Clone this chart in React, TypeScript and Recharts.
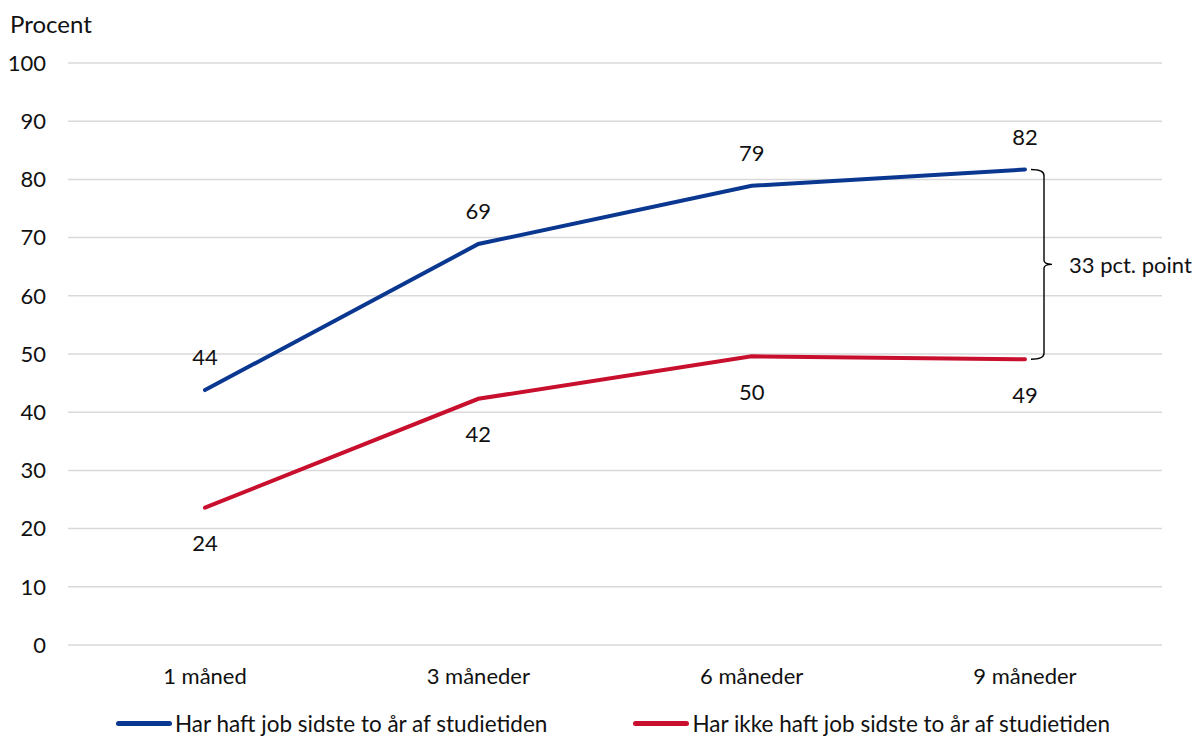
import React from 'react';
import { LineChart, Line, XAxis, YAxis, CartesianGrid, Legend, LabelList, ReferenceArea } from 'recharts';

// beskæftigelse efter endt uddannelse, procent
const months = ['1 måned', '3 måneder', '6 måneder', '9 måneder'];
const medJob = [43.8, 68.9, 78.9, 81.7];
const udenJob = [23.6, 42.3, 49.6, 49.1];
const yTicks = [0, 10, 20, 30, 40, 50, 60, 70, 80, 90, 100];
const seriesNames = ['Har haft job sidste to år af studietiden', 'Har ikke haft job sidste to år af studietiden'];
const gapLabel = '33 pct. point';

const data = months.map((m, i) => ({ month: m, medJob: medJob[i], udenJob: udenJob[i] }));

const FONT = 'Lato, Carlito, "Open Sans", sans-serif';
const FS = 22;
const BLUE = '#0a3790';
const RED = '#c8102e';
const TEXT = '#111';

const Bracket = (props: any) => {
  const { x, y, height } = props;
  const top = y;
  const bot = y + height;
  const mid = (top + bot) / 2;
  const L = x + 6;
  const V = x + 19;
  const T = x + 27;
  const d = `M ${L} ${top} Q ${V} ${top} ${V} ${top + 6} L ${V} ${mid - 4} Q ${V} ${mid} ${T} ${mid} Q ${V} ${mid} ${V} ${mid + 4} L ${V} ${bot - 6} Q ${V} ${bot} ${L} ${bot}`;
  return (
    <g>
      <path d={d} fill="none" stroke="#000" strokeWidth={1.4} />
      <text x={x + 44} y={mid} dominantBaseline="central" fontSize={FS} fontFamily={FONT} fill={TEXT}>
        {gapLabel}
      </text>
    </g>
  );
};

const renderLegend = (props: any) => {
  const { payload } = props;
  return (
    <div style={{ display: 'flex', alignItems: 'center', height: 28, paddingLeft: 116, gap: 86, fontFamily: FONT, fontSize: FS + 0.5, color: TEXT }}>
      {payload.map((entry: any, i: number) => (
        <div key={`leg-${i}`} style={{ display: 'flex', alignItems: 'center' }}>
          <div style={{ width: 56, height: 5, borderRadius: 3, background: entry.color, marginRight: 3 }} />
          <span style={{ whiteSpace: 'nowrap' }}>{entry.value}</span>
        </div>
      ))}
    </div>
  );
};

export default function App() {
  return (
    <div style={{ position: 'absolute', left: 0, top: 0, background: '#fff' }}>
      <LineChart width={1195} height={738} data={data} margin={{ top: 63, right: 33, left: 8, bottom: 3 }}>
        <CartesianGrid vertical={false} stroke="#d9d9d9" strokeWidth={1.5} />
        <XAxis
          dataKey="month"
          height={62}
          padding={{ left: 137, right: 137 }}
          axisLine={false}
          tickLine={false}
          tickSize={0}
          tickMargin={23}
          tick={{ fontSize: FS, fontFamily: FONT, fill: TEXT }}
        />
        <YAxis
          width={60}
          domain={[0, 100]}
          ticks={yTicks}
          axisLine={false}
          tickLine={false}
          tickSize={0}
          tickMargin={22}
          tick={{ fontSize: FS, fontFamily: FONT, fill: TEXT }}
          label={() => (
            <text x={10} y={33} fontSize={FS + 2} fontFamily={FONT} fill={TEXT}>
              Procent
            </text>
          )}
        />
        <Legend content={renderLegend} wrapperStyle={{ left: 0, top: 709, bottom: 'auto', width: 1195, height: 28 }} />
        <ReferenceArea x1={months[3]} x2={months[3]} y1={udenJob[3]} y2={medJob[3]} shape={Bracket} ifOverflow="visible" />
        <Line
          type="linear"
          dataKey="medJob"
          name={seriesNames[0]}
          stroke={BLUE}
          strokeWidth={4}
          strokeLinecap="round"
          dot={false}
          isAnimationActive={false}
        >
          <LabelList dataKey="medJob" position="top" offset={25} formatter={(v: any) => Math.round(v)} style={{ fontSize: FS, fontFamily: FONT, fill: TEXT }} />
        </Line>
        <Line
          type="linear"
          dataKey="udenJob"
          name={seriesNames[1]}
          stroke={RED}
          strokeWidth={4}
          strokeLinecap="round"
          dot={false}
          isAnimationActive={false}
        >
          <LabelList dataKey="udenJob" position="bottom" offset={28} formatter={(v: any) => Math.round(v)} style={{ fontSize: FS, fontFamily: FONT, fill: TEXT }} />
        </Line>
      </LineChart>
    </div>
  );
}
